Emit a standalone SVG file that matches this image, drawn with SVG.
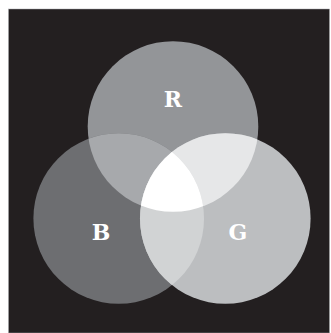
<svg xmlns="http://www.w3.org/2000/svg" width="331" height="333" viewBox="0 0 331 333">
  <style>
    .lbl { font-family: "DejaVu Serif", "Liberation Serif", serif; font-weight: bold; font-size: 22px; fill: #ffffff; text-anchor: middle; }
  </style>
  <defs>
    <clipPath id="clipR"><circle cx="173" cy="126.5" r="85.3"/></clipPath>
    <clipPath id="clipB"><circle cx="118.7" cy="218.5" r="85.3"/></clipPath>
    <clipPath id="clipG"><circle cx="225.3" cy="218.5" r="85.3"/></clipPath>
  </defs>
  <rect id="background" x="8.5" y="9" width="321" height="324" fill="#231f20" stroke="#a7a9ac" stroke-width="0.5"/>
  <g id="circle-R">
    <circle cx="173" cy="126.5" r="85.3" fill="#939598"/>
  </g>
  <g id="circle-B">
    <circle cx="118.7" cy="218.5" r="85.3" fill="#6d6e71"/>
  </g>
  <g id="circle-G">
    <circle cx="225.3" cy="218.5" r="85.3" fill="#bcbec0"/>
  </g>
  <g id="overlaps">
    <circle cx="118.7" cy="218.5" r="85.3" fill="#a7a9ac" clip-path="url(#clipR)"/>
    <circle cx="225.3" cy="218.5" r="85.3" fill="#e6e7e8" clip-path="url(#clipR)"/>
    <circle cx="225.3" cy="218.5" r="85.3" fill="#d1d3d4" clip-path="url(#clipB)"/>
    <g clip-path="url(#clipR)">
      <circle cx="225.3" cy="218.5" r="85.3" fill="#ffffff" clip-path="url(#clipB)"/>
    </g>
  </g>
  <g id="labels">
    <text class="lbl" x="173" y="107">R</text>
    <text class="lbl" x="101" y="240">B</text>
    <text class="lbl" x="238" y="240">G</text>
  </g>
</svg>
